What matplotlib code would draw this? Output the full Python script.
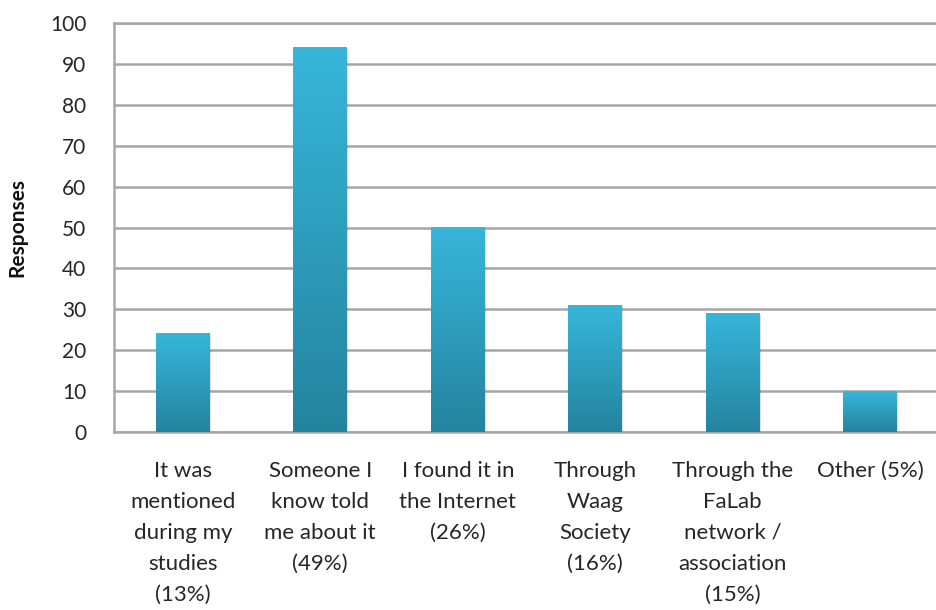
'''
Bar chart of how respondents heard about the FabLab
'''

#########################################

import numpy as np
import matplotlib
matplotlib.use('Agg')
import matplotlib.pyplot as plt
from matplotlib.colors import LinearSegmentedColormap


#########################################

categories=["It was\nmentioned\nduring my\nstudies\n(13%)",
            "Someone I\nknow told\nme about it\n(49%)",
            "I found it in\nthe Internet\n(26%)",
            "Through\nWaag\nSociety\n(16%)",
            "Through the\nFaLab\nnetwork /\nassociation\n(15%)",
            "Other (5%)"]
responses=[24,94,50,31,29,10]
yticks=list(range(0,101,10))

textCol='#262626'
gridCol='#a6a6a6'

#########################################

plt.rcParams['font.family']=['Lato','DejaVu Sans']

fig=plt.figure(figsize=(9.37,6.10),dpi=100)
ax=fig.add_axes([114/937,(610-432)/610,(939-114)/937,(432-23)/610])

x=np.arange(len(categories))
bars=ax.bar(x,responses,width=0.39,color='none',edgecolor='none',zorder=3)

# gradient fill: light cyan on top, dark teal at the bottom
cmap=LinearSegmentedColormap.from_list('barGrad',['#24849e','#37b6da'])
grad=np.linspace(0,1,256).reshape(-1,1)
for b in bars:
  x0=b.get_x()
  w=b.get_width()
  h=b.get_height()
  # soft shadow
  ax.add_patch(plt.Rectangle((x0+0.01,-0.3),w,h,facecolor='#000000',alpha=0.12,edgecolor='none',zorder=2))
  ax.imshow(grad,extent=[x0,x0+w,0,h],origin='lower',aspect='auto',cmap=cmap,zorder=3)

ax.set_xlim(-0.5,len(categories)-0.5)
ax.set_ylim(0,100)
ax.set_yticks(yticks)
ax.set_xticks(x)
ax.set_xticklabels(categories,fontsize=16,color=textCol,linespacing=1.68,va='top')
ax.tick_params(axis='y',labelsize=15,labelcolor=textCol,length=0,pad=20)
ax.tick_params(axis='x',length=0,pad=21)

ax.grid(axis='y',color=gridCol,linewidth=1.8,zorder=0)
ax.set_axisbelow(True)
for s in ['left','bottom','top']:
  ax.spines[s].set_color(gridCol)
  ax.spines[s].set_linewidth(1.8)
ax.spines['right'].set_visible(False)

ax.set_ylabel("Responses",fontsize=15,fontweight='bold',color='#111111')
ax.yaxis.set_label_coords(-0.105,0.5)

plt.savefig('out.png',dpi=100)
plt.close()
